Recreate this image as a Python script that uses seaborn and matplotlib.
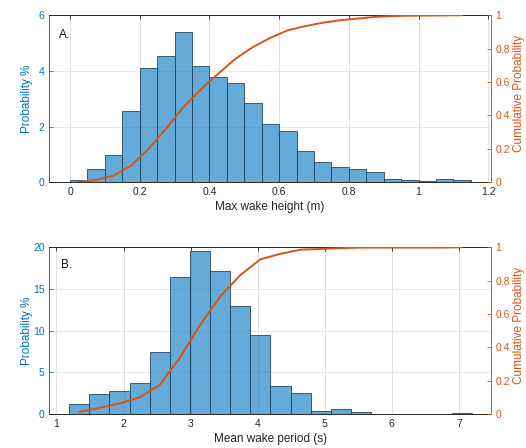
import numpy as np
import pandas as pd
import matplotlib
matplotlib.use("Agg")
import matplotlib.pyplot as plt
import seaborn as sns

# ---- data ----
# A: max wake height (m), bins of 0.05 from 0 to 1.15
height_bin_start = 0.0
height_bin_width = 0.05
height_prob = [0.07, 0.48, 0.98, 2.56, 4.09, 4.52, 5.41, 4.16, 3.80, 3.56, 2.86, 2.08,
               1.84, 1.13, 0.72, 0.54, 0.47, 0.36, 0.11, 0.07, 0.06, 0.11, 0.07]
height_cdf = [0.002, 0.014, 0.04, 0.10, 0.20, 0.32, 0.45, 0.555, 0.65, 0.74, 0.81, 0.865,
              0.91, 0.935, 0.955, 0.97, 0.98, 0.99, 0.995, 0.997, 0.998, 0.999, 1.0]

# B: mean wake period (s), bins of 0.3 from 1.19 to 7.19
period_bin_start = 1.19
period_bin_width = 0.3
period_prob = [1.2, 2.4, 2.7, 3.7, 7.4, 16.4, 19.5, 17.1, 12.9, 9.5, 3.3, 2.5,
               0.4, 0.56, 0.28, 0.0, 0.0, 0.0, 0.0, 0.16]
period_cdf = [0.012, 0.036, 0.063, 0.10, 0.174, 0.338, 0.533, 0.704, 0.833, 0.928, 0.961, 0.986,
              0.99, 0.995, 0.998, 0.998, 0.998, 0.998, 0.998, 1.0]

blue = "#0072BD"
orange = "#D95319"

sns.set_style("white")
plt.rcParams["font.family"] = ["Liberation Sans", "DejaVu Sans"]
plt.rcParams["font.size"] = 7.5

fig = plt.figure(figsize=(5.26, 4.48), dpi=100)

panels = [
    dict(rect=[0.094, 0.593, 0.839, 0.373], start=height_bin_start, width=height_bin_width,
         prob=height_prob, cdf=height_cdf, xlim=(-0.059, 1.207), ylim=(0, 6),
         yticks=[0, 2, 4, 6], xticks=[0, 0.2, 0.4, 0.6, 0.8, 1, 1.2],
         xlabel="Max wake height (m)", tag="A.", tagpos=(0.022, 0.862)),
    dict(rect=[0.094, 0.076, 0.839, 0.372], start=period_bin_start, width=period_bin_width,
         prob=period_prob, cdf=period_cdf, xlim=(0.896, 7.474), ylim=(0, 20),
         yticks=[0, 5, 10, 15, 20], xticks=[1, 2, 3, 4, 5, 6, 7],
         xlabel="Mean wake period (s)", tag="B.", tagpos=(0.027, 0.876)),
]

for p in panels:
    n = len(p["prob"])
    edges = p["start"] + p["width"] * np.arange(n + 1)
    centers = (edges[:-1] + edges[1:]) / 2
    df = pd.DataFrame({"x": centers, "w": p["prob"], "cdf": p["cdf"]})

    ax = fig.add_axes(p["rect"])
    sns.histplot(data=df, x="x", weights="w", bins=list(edges), stat="count", ax=ax,
                 color=blue, alpha=0.6, edgecolor="#24465e", linewidth=0.6)
    ax.set_xlim(*p["xlim"])
    ax.set_ylim(*p["ylim"])
    ax.set_xticks(p["xticks"])
    ax.set_xticklabels([f"{t:g}" for t in p["xticks"]])
    ax.set_yticks(p["yticks"])
    ax.set_xlabel(p["xlabel"], fontsize=8.5, labelpad=3)
    ax.set_ylabel("Probability %", color=blue, fontsize=8.5)
    ax.yaxis.set_label_coords(-0.037, 0.5)
    ax.tick_params(axis="y", colors=blue, direction="in", length=3, width=0.6)
    ax.tick_params(axis="x", direction="in", length=3, width=0.6, top=True, colors="#262626")
    ax.grid(axis="x", color="#dcdcdc", linewidth=0.6)
    ax.grid(axis="y", color="#dbe8f3", linewidth=0.6)
    ax.set_axisbelow(True)
    for side in ["top", "bottom"]:
        ax.spines[side].set_color("#262626")
        ax.spines[side].set_linewidth(0.7)
    ax.spines["left"].set_color(blue)
    ax.spines["left"].set_linewidth(0.7)
    ax.spines["right"].set_visible(False)
    ax.text(*p["tagpos"], p["tag"], transform=ax.transAxes, fontsize=8.5, color="#111111")

    ax2 = ax.twinx()
    sns.lineplot(data=df, x="x", y="cdf", ax=ax2, color=orange, linewidth=1.4)
    ax2.set_ylim(0, 1)
    ax2.set_yticks([0, 0.2, 0.4, 0.6, 0.8, 1])
    ax2.set_yticklabels(["0", "0.2", "0.4", "0.6", "0.8", "1"])
    ax2.set_xlabel("")
    ax2.set_ylabel("Cumulative Probability", color=orange, fontsize=8.5)
    ax2.yaxis.set_label_coords(1.051, 0.53)
    ax2.tick_params(axis="y", colors=orange, direction="in", length=3, width=0.6)
    for side in ["top", "bottom", "left"]:
        ax2.spines[side].set_visible(False)
    ax2.spines["right"].set_color(orange)
    ax2.spines["right"].set_linewidth(0.7)

fig.savefig("out.png", dpi=100)
